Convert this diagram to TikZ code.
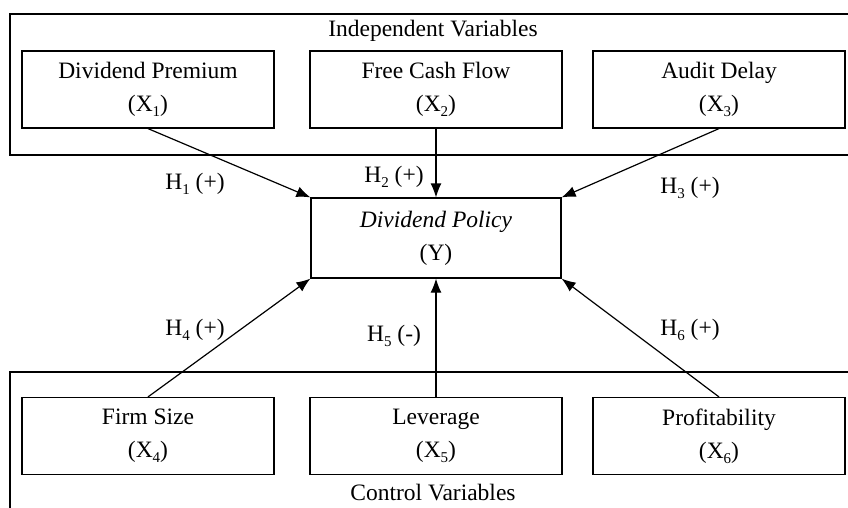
\documentclass[tikz,border=0pt]{standalone}
\usepackage{fontspec}
\setmainfont{Liberation Serif}
\usetikzlibrary{positioning,arrows.meta}

\newcommand{\lowsub}[1]{\raisebox{-5pt}{\fontsize{15}{15}\selectfont #1}}
\tikzset{
  varbox/.style={draw, line width=1.2pt, minimum width=252pt, minimum height=77pt,
    align=center, inner sep=0pt, font=\fontsize{23.5}{33}\selectfont},
  groupbox/.style={line width=1.6pt},
  hyp/.style={-{Latex[length=14pt,width=11pt]}, line width=1.2pt},
  hyplabel/.style={font=\fontsize{23.5}{28}\selectfont}
}

\begin{document}
\begin{tikzpicture}[x=1pt,y=-1pt]
            \useasboundingbox (0,0) rectangle (848,507);
            \fill[white] (0,0) rectangle (848,507);
            % group frames
            \draw[groupbox] (10,14) rectangle (852,155);
            \draw[groupbox] (10,372) rectangle (852,512);
            \node[hyplabel] (indep) at (433,31) {Independent Variables};
            \node[hyplabel] (ctrl) at (433,493) {Control Variables};
            % variables
            \foreach \name/\x/\y/\txt/\i in {x1/148/89.5/Dividend Premium/1, x2/436/89.5/Free Cash Flow/2,
                                             x3/719/89.5/Audit Delay/3, x4/148/436/Firm Size/4,
                                             x5/436/436/Leverage/5, x6/719/436/Profitability/6} {
                \node[varbox] (\name) at (\x,\y) {\txt\\(X\lowsub{\i})};
            }
            \node[varbox, minimum width=250pt, minimum height=80pt] (y) at (436,238)
                {\textit{Dividend Policy}\\(Y)};
            % hypotheses
            \draw[hyp] (x1.south) -- (y.north west);
            \draw[hyp] (x2.south) -- (y.north);
            \draw[hyp] (x3.south) -- (y.north east);
            \draw[hyp] (x4.north) -- (y.south west);
            \draw[hyp] (x5.north) -- (y.south);
            \draw[hyp] (x6.north) -- (y.south east);
            \node[hyplabel] (h1) at (195,184) {H\lowsub{1} (+)};
            \node[hyplabel] (h2) at (394,177) {H\lowsub{2} (+)};
            \node[hyplabel] (h3) at (690,188) {H\lowsub{3} (+)};
            \node[hyplabel] (h4) at (195,330) {H\lowsub{4} (+)};
            \node[hyplabel] (h5) at (394,336) {H\lowsub{5} (-)};
            \node[hyplabel] (h6) at (690,330) {H\lowsub{6} (+)};
\end{tikzpicture}
\end{document}
